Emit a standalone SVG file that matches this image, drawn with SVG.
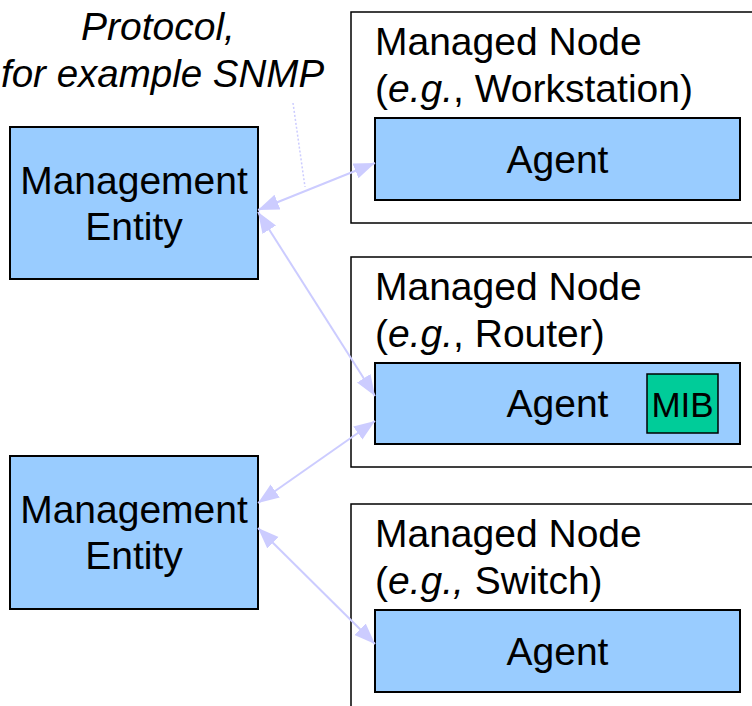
<svg xmlns="http://www.w3.org/2000/svg" width="752" height="706" viewBox="0 0 752 706">
  <style>
    text { font-family: "Liberation Sans", Arial, sans-serif; font-size: 39px; fill: #000; }
    .it { font-style: italic; }
    .mid { text-anchor: middle; }
    .entity { fill: #99ccff; stroke: #000; stroke-width: 2; }
    .agent { fill: #99ccff; stroke: #000; stroke-width: 2; }
    .mib { fill: #00cc99; stroke: #000; stroke-width: 1.5; }
    .node { fill: #fff; stroke: #000; stroke-width: 1.5; }
    .link { stroke: #ccccff; stroke-width: 2; fill: none; marker-start: url(#head); marker-end: url(#head); }
    .callout { stroke: #ccccff; stroke-width: 1.5; stroke-dasharray: 2 2; fill: none; }
  </style>
  <defs>
    <marker id="head" markerUnits="userSpaceOnUse" markerWidth="22" markerHeight="18" viewBox="0 0 22 18" refX="21" refY="9" orient="auto-start-reverse">
      <path d="M0,1 L21,9 L0,17 Z" fill="#ccccff"/>
    </marker>
  </defs>

  <!-- protocol caption -->
  <g id="protocol-label">
    <text class="it" x="81" y="40">Protocol,</text>
    <text class="it" x="1" y="87" style="font-size:38.5px">for example SNMP</text>
  </g>

  <!-- managed nodes (right edge runs off the page) -->
  <g id="node-workstation">
    <rect class="node" x="351" y="12" width="420" height="211"/>
    <text x="375" y="55">Managed Node</text>
    <text x="375" y="102">(<tspan class="it">e.g.</tspan>, Workstation)</text>
    <g id="agent-workstation">
      <rect class="agent" x="375" y="118" width="365" height="82"/>
      <text class="mid" x="557.5" y="173">Agent</text>
    </g>
  </g>

  <g id="node-router">
    <rect class="node" x="351" y="257" width="420" height="210"/>
    <text x="375" y="300">Managed Node</text>
    <text x="375" y="347">(<tspan class="it">e.g.</tspan>, Router)</text>
    <g id="agent-router">
      <rect class="agent" x="375" y="363" width="365" height="81"/>
      <text class="mid" x="557.5" y="417">Agent</text>
      <g id="mib">
        <rect class="mib" x="647" y="374" width="71" height="59"/>
        <text x="682.5" y="417" class="mid" style="font-size:35px">MIB</text>
      </g>
    </g>
  </g>

  <g id="node-switch">
    <rect class="node" x="351" y="504" width="420" height="230"/>
    <text x="375" y="547">Managed Node</text>
    <text x="375" y="594">(<tspan class="it">e.g.,</tspan> Switch)</text>
    <g id="agent-switch">
      <rect class="agent" x="375" y="610" width="365" height="82"/>
      <text class="mid" x="557.5" y="665">Agent</text>
    </g>
  </g>

  <!-- management entities -->
  <g id="entity-1">
    <rect class="entity" x="10" y="127" width="248" height="152"/>
    <text class="mid" x="134" y="194">Management</text>
    <text class="mid" x="134" y="240">Entity</text>
  </g>
  <g id="entity-2">
    <rect class="entity" x="10" y="456" width="248" height="153"/>
    <text class="mid" x="134" y="523">Management</text>
    <text class="mid" x="134" y="569">Entity</text>
  </g>

  <!-- connectors -->
  <g id="connectors">
    <line class="callout" x1="293" y1="103" x2="305" y2="187"/>
    <line class="link" x1="258" y1="210" x2="375" y2="163"/>
    <line class="link" x1="258" y1="212" x2="375" y2="396"/>
    <line class="link" x1="375" y1="421" x2="258" y2="503"/>
    <line class="link" x1="258" y1="528" x2="375" y2="644"/>
  </g>
</svg>
